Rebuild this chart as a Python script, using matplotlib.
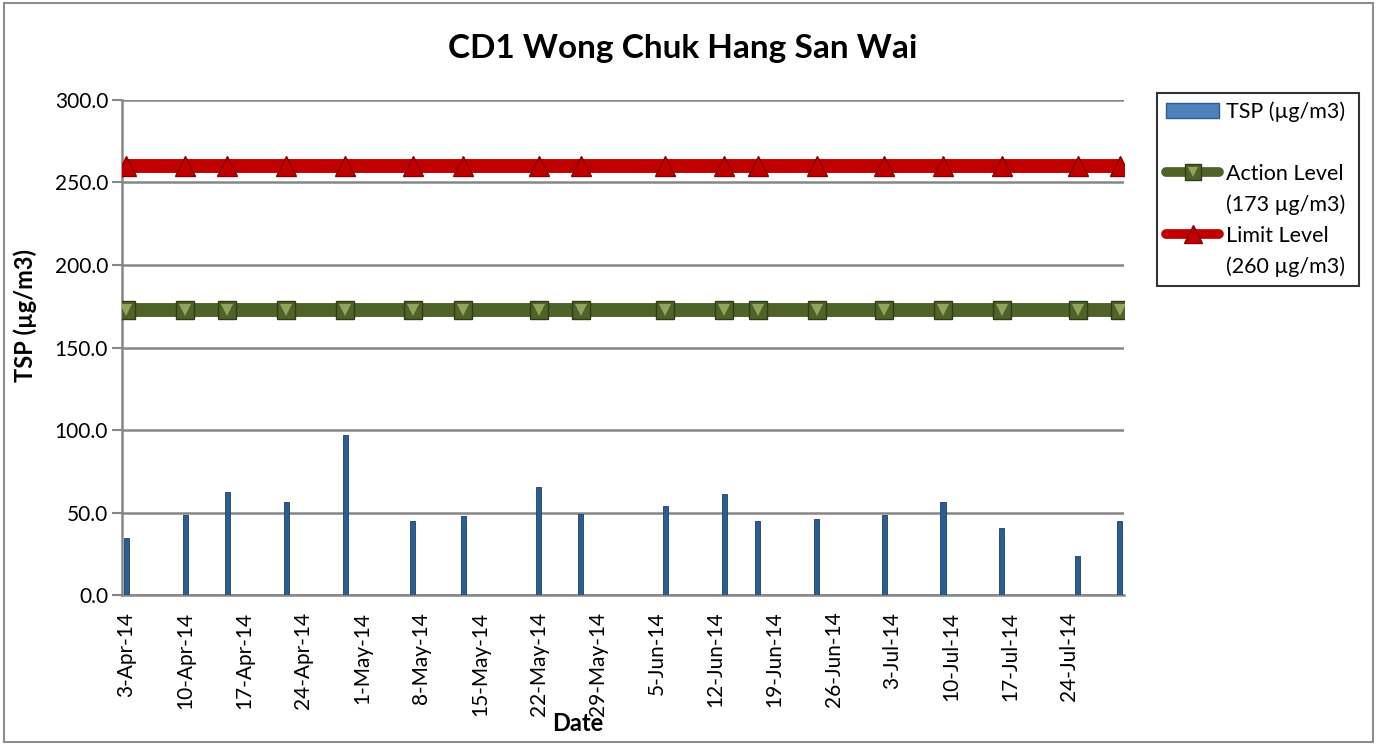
import numpy as np
import matplotlib
matplotlib.use("Agg")
import matplotlib.pyplot as plt
import matplotlib.dates as mdates
from matplotlib.lines import Line2D
from matplotlib.patches import Rectangle
from matplotlib.legend_handler import HandlerTuple
import datetime as dt

plt.rcParams['font.family'] = ['Lato', 'DejaVu Sans']

# sampling dates (2014) and TSP readings
dates = ["2014-04-03", "2014-04-10", "2014-04-15", "2014-04-22", "2014-04-29",
         "2014-05-07", "2014-05-13", "2014-05-22", "2014-05-27", "2014-06-06",
         "2014-06-13", "2014-06-17", "2014-06-24", "2014-07-02", "2014-07-09",
         "2014-07-16", "2014-07-25", "2014-07-30"]
tsp = [34.3, 48.8, 62.5, 56.1, 96.8, 45.0, 47.8, 65.5, 49.4, 53.8,
       61.1, 44.8, 46.2, 48.2, 56.1, 40.7, 23.8, 44.8]
action_level = 173
limit_level = 260

x = [dt.datetime.strptime(d, "%Y-%m-%d") for d in dates]
action = [action_level] * len(x)
limit = [limit_level] * len(x)

grid_c = '#868686'
blue = '#2C5C94'
green = '#4F6228'
red = '#C00000'

fig = plt.figure(figsize=(13.77, 7.45), dpi=100)
ax = fig.add_axes([0.0886, 0.2013, 0.7277, 0.6645])

# outer chart border
fig.patches.append(Rectangle((0.003, 0.004), 0.994, 0.992, transform=fig.transFigure,
                             fill=False, edgecolor='#8c8c8c', linewidth=1.5))

ax.bar(x, tsp, width=0.6, color=blue, edgecolor='#1F3F66', linewidth=0.6, zorder=3)

ax.plot(x, action, color=green, linewidth=10, solid_capstyle='butt', zorder=4)
ax.plot(x, action, linestyle='none', marker='s', markersize=13,
        markerfacecolor='#4F6228', markeredgecolor='#2f3c17', markeredgewidth=1, zorder=5)
ax.plot(x, action, linestyle='none', marker='v', markersize=8,
        markerfacecolor='#8EA55E', markeredgewidth=0, zorder=6)

ax.plot(x, limit, color=red, linewidth=10, solid_capstyle='butt', zorder=4)
ax.plot(x, limit, linestyle='none', marker='^', markersize=14,
        markerfacecolor='#C00000', markeredgecolor='#8B0000', markeredgewidth=1, zorder=5)

ax.set_ylim(0, 300)
ax.set_yticks(np.arange(0, 301, 50))
ax.set_yticklabels(["%.1f" % v for v in np.arange(0, 301, 50)], fontsize=15)
ax.set_xlim(x[0] - dt.timedelta(hours=12), x[-1] + dt.timedelta(hours=12))
ticks = [x[0] + dt.timedelta(days=7 * i) for i in range(17)]
ax.set_xticks(ticks)
ax.xaxis.set_major_formatter(mdates.DateFormatter('%-d-%b-%y'))
plt.setp(ax.get_xticklabels(), rotation=90, fontsize=15)

ax.grid(axis='y', color=grid_c, linewidth=1.8, zorder=0)
ax.set_axisbelow(True)
for s in ['top', 'right']:
    ax.spines[s].set_visible(False)
for s in ['left', 'bottom']:
    ax.spines[s].set_color(grid_c)
    ax.spines[s].set_linewidth(1.8)
ax.tick_params(axis='y', length=7, width=1.5, color=grid_c, pad=3)
ax.tick_params(axis='x', length=0, pad=12)

ax.set_title("CD1 Wong Chuk Hang San Wai", fontsize=24, fontweight='bold', pad=30, x=0.56)
ax.set_ylabel("TSP (µg/m3)", fontsize=17, fontweight='bold')
ax.yaxis.set_label_coords(-0.085, 0.564)
ax.set_xlabel("Date", fontsize=17, fontweight='bold')
ax.xaxis.set_label_coords(0.455, -0.237)

# legend
h_tsp = Rectangle((0, 0), 1, 1, facecolor='#4F81BD', edgecolor='#2C5C94')
h_act = (Line2D([], [], color=green, linewidth=7, solid_capstyle='round'),
         Line2D([], [], linestyle='none', marker='s', markersize=12,
                markerfacecolor='#4F6228', markeredgecolor='#2f3c17'),
         Line2D([], [], linestyle='none', marker='v', markersize=7,
                markerfacecolor='#8EA55E', markeredgewidth=0))
h_lim = (Line2D([], [], color=red, linewidth=7, solid_capstyle='round'),
         Line2D([], [], linestyle='none', marker='^', markersize=13,
                markerfacecolor='#C00000', markeredgecolor='#8B0000'))
blank = Line2D([], [], alpha=0)
leg = fig.legend([h_tsp, blank, h_act, blank, h_lim, blank],
                 ["TSP (µg/m3)", " ", "Action Level", "(173 µg/m3)",
                  "Limit Level", "(260 µg/m3)"],
                 handler_map={tuple: HandlerTuple(ndivide=1, pad=0)},
                 loc='upper left', bbox_to_anchor=(1157 / 1377, 1 - 93 / 745, 202 / 1377, 0),
                 mode='expand', fontsize=15.5, frameon=True, fancybox=False,
                 handlelength=2.5, handletextpad=0.3, labelspacing=0.5,
                 borderpad=0.4, borderaxespad=0)
leg.get_frame().set_edgecolor('black')
leg.get_frame().set_linewidth(1.5)

fig.savefig("out.png", dpi=100)
